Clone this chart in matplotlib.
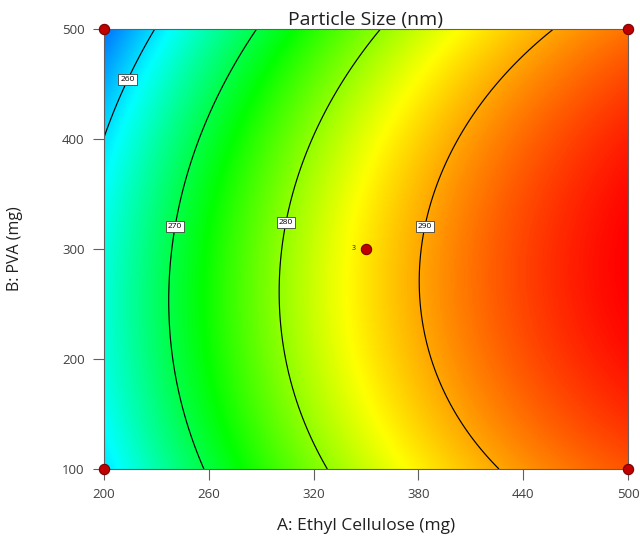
import numpy as np
import matplotlib
matplotlib.use('Agg')
import matplotlib.pyplot as plt
import matplotlib.colors as mcolors

# fitted quadratic model in coded units (a, b in [-1, 1])
coef_names = ["b0", "A", "B", "AB", "A2", "B2"]
coef_values = [286.4, 18.2, -1.85, 1.03, -5.3, -5.6]

a_range = [200, 500]   # Ethyl Cellulose (mg)
b_range = [100, 500]   # PVA (mg)
x_ticks = [200, 260, 320, 380, 440, 500]
y_ticks = [100, 200, 300, 400, 500]
levels = [260, 270, 280, 290]
label_pos = [(212.6, 454.5), (241.2, 320.0), (304.8, 323.6), (384.9, 320.0)]

design_a = [200, 200, 500, 500, 350]
design_b = [100, 500, 100, 500, 300]
center_reps = 3

plt.rcParams['font.family'] = ['Open Sans', 'DejaVu Sans']


def model(A, B):
    c = dict(zip(coef_names, coef_values))
    a = (A - 350.0) / 150.0
    b = (B - 300.0) / 200.0
    return (c["b0"] + c["A"] * a + c["B"] * b + c["AB"] * a * b
            + c["A2"] * a ** 2 + c["B2"] * b ** 2)


A, B = np.meshgrid(np.linspace(*a_range, 400), np.linspace(*b_range, 400))
Z = model(A, B)

# Design-Expert style rainbow, anchored on response values
nodes = [(254.2, "#006eff"), (261.5, "#00ffff"), (273.2, "#00ff00"),
         (285.2, "#ffff00"), (299.3, "#ff0000")]
vmin, vmax = nodes[0][0], nodes[-1][0]
cmap = mcolors.LinearSegmentedColormap.from_list(
    "de", [((v - vmin) / (vmax - vmin), c) for v, c in nodes])

fig = plt.figure(figsize=(6.4, 5.41), dpi=100)
ax = fig.add_axes([0.1625, 0.1331, 0.8187, 0.8133])

ax.imshow(Z, extent=(*a_range, *b_range), origin="lower", cmap=cmap,
          vmin=vmin, vmax=vmax, aspect="auto", interpolation="bilinear")
cs = ax.contour(A, B, Z, levels=levels, colors="black", linewidths=0.85)
labels = ax.clabel(cs, fmt="%d", fontsize=6, inline=False, manual=label_pos)
for t in labels:
    t.set_rotation(0)
    t.set_bbox(dict(boxstyle="square,pad=0.25", fc="white", ec="#404040", lw=0.6))
    t.set_zorder(6)

ax.scatter(design_a, design_b, s=55, c="#c00000", edgecolors="#7a0000",
           linewidths=0.8, zorder=7, clip_on=False)
ax.annotate(str(center_reps), xy=(design_a[-1], design_b[-1]), xytext=(-9, 0),
            textcoords="offset points", fontsize=5, va="center", ha="center",
            color="#202020")

ax.set_xlim(*a_range)
ax.set_ylim(*b_range)
ax.set_xticks(x_ticks)
ax.set_yticks(y_ticks)
ax.tick_params(direction="out", length=8, width=0.8, color="#606060",
               labelsize=9.5, labelcolor="#404040", pad=6)
for sp in ax.spines.values():
    sp.set_color("#606060")
    sp.set_linewidth(0.8)

ax.set_title("Particle Size (nm)", fontsize=14, color="#202020", pad=2)
ax.set_xlabel("A: Ethyl Cellulose (mg)", fontsize=12.5, color="#202020", labelpad=12)
ax.set_ylabel("B: PVA (mg)", fontsize=11.5, color="#202020", labelpad=28)

plt.savefig("out.png", dpi=100)
